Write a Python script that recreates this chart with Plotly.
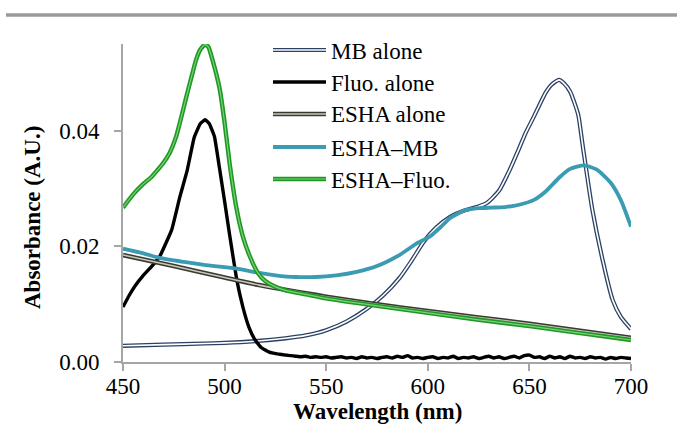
import plotly.graph_objects as go

# ---------------- data ----------------
mb_nm = [450, 470, 490, 500, 515, 530, 540, 550, 560, 570, 578, 586, 592, 598, 604, 611,
         618, 624, 629, 635, 640, 645, 648, 652, 658, 661, 664.6, 667, 670, 674, 676, 678,
         681, 686, 691, 695, 700]
mb_abs = [0.0028, 0.0030, 0.0032, 0.0033, 0.0036, 0.0041, 0.0046, 0.0055, 0.0070, 0.0092,
          0.0115, 0.0145, 0.0175, 0.0208, 0.0232, 0.0251, 0.0262, 0.0268, 0.0275, 0.0296,
          0.0330, 0.0370, 0.0395, 0.0423, 0.0466, 0.0480, 0.0488, 0.0482, 0.0468, 0.0428,
          0.0380, 0.0332, 0.0263, 0.0177, 0.0107, 0.0078, 0.0057]

fluo_nm = [450, 453, 456, 460, 464, 468, 474, 478, 481.5, 485, 488, 490.4, 492.5, 495, 497.5,
           500, 502.6, 506, 509, 512, 515, 518, 522, 526,
           530, 532.5, 535, 537.5, 540, 542.5, 545, 547.5, 550, 552.5, 555, 557.5, 560, 562.5,
           565, 567.5, 570, 572.5, 575, 577.5, 580, 582.5, 585, 587.5, 590, 592.5, 595, 597.5,
           600, 602.5, 605, 607.5, 610, 612.5, 615, 617.5, 620, 622.5, 625, 627.5, 630, 632.5,
           635, 637.5, 640, 642.5, 645, 647.5, 650, 652.5, 655, 657.5, 660, 662.5, 665, 667.5,
           670, 672.5, 675, 677.5, 680, 682.5, 685, 687.5, 690, 692.5, 695, 697.5, 700]
fluo_abs = [0.0095, 0.0115, 0.0132, 0.0150, 0.0165, 0.0182, 0.0229, 0.0286, 0.0330, 0.0388,
            0.0412, 0.0419, 0.0412, 0.0390, 0.0335, 0.0278, 0.0217, 0.0142, 0.0095, 0.0060,
            0.0038, 0.0025, 0.0017, 0.0014,
            0.0012, 0.0011, 0.0010, 0.0009, 0.0010, 0.0008, 0.0009, 0.0008, 0.0009, 0.0007,
            0.0008, 0.0009, 0.0007, 0.0008, 0.0006, 0.0009, 0.0007, 0.0008, 0.0006, 0.0008,
            0.0009, 0.0007, 0.0010, 0.0008, 0.0011, 0.0007, 0.0008, 0.0006, 0.0008, 0.0009,
            0.0006, 0.0008, 0.0007, 0.0010, 0.0006, 0.0008, 0.0007, 0.0009, 0.0006, 0.0008,
            0.0010, 0.0007, 0.0009, 0.0006, 0.0008, 0.0010, 0.0007, 0.0011, 0.0012, 0.0008,
            0.0009, 0.0006, 0.0010, 0.0007, 0.0009, 0.0006, 0.0010, 0.0007, 0.0008, 0.0006,
            0.0009, 0.0007, 0.0008, 0.0005, 0.0008, 0.0006, 0.0008, 0.0007, 0.0006]

esha_nm = [450, 475, 500, 517, 550, 575, 600, 625, 650, 675, 700]
esha_abs = [0.0185, 0.0166, 0.0146, 0.0133, 0.0113, 0.0100, 0.0088, 0.0077, 0.0066, 0.0054, 0.0042]

eshamb_nm = [450, 460, 468, 480, 490, 500, 510, 517, 525, 535, 545, 555, 565, 575, 586, 594,
             601, 606, 611, 618, 625, 631, 638, 645, 652, 658, 665, 670, 677, 683, 690, 695, 700]
eshamb_abs = [0.0196, 0.0188, 0.0180, 0.0173, 0.0168, 0.0164, 0.0159, 0.0154, 0.0150, 0.0147,
              0.0147, 0.0150, 0.0156, 0.0166, 0.0185, 0.0204, 0.0217, 0.0232, 0.0249, 0.0262,
              0.0266, 0.0267, 0.0268, 0.0272, 0.0280, 0.0295, 0.0320, 0.0334, 0.0340, 0.0333,
              0.0310, 0.0280, 0.0234]

eshafl_nm = [450, 455, 460, 464, 467, 470, 473, 476, 478, 480, 482, 484, 486, 488, 490.4, 492,
             494, 496, 497.7, 500, 502.6, 506, 509, 512.5, 516.4, 520, 525, 530, 540, 550, 575,
             600, 625, 650, 675, 700]
eshafl_abs = [0.0267, 0.0290, 0.0308, 0.0320, 0.0332, 0.0345, 0.0362, 0.0388, 0.0414, 0.0442,
              0.0470, 0.0497, 0.0523, 0.0540, 0.0549, 0.0545, 0.0523, 0.0497, 0.0470, 0.0414,
              0.0340, 0.0263, 0.0217, 0.0182, 0.0154, 0.0140, 0.0130, 0.0124, 0.0117, 0.0110,
              0.0097, 0.0085, 0.0073, 0.0062, 0.0050, 0.0038]

legend_labels = ["MB alone", "Fluo. alone", "ESHA alone", "ESHA\u2013MB", "ESHA\u2013Fluo."]
x_ticks = [450, 500, 550, 600, 650, 700]
y_ticks = [0.00, 0.02, 0.04]
y_tick_text = ["0.00", "0.02", "0.04"]

# ---------------- styles ----------------
FONT = "Liberation Serif"
# (outer color, outer width, inner color, inner width, smoothing)
styles = [
    ("#2b4163", 4.2, "#ffffff", 1.6, 0.6),   # MB alone (double line)
    ("#000000", 3.4, None, 0, 0.3),          # Fluo alone
    ("#3a3a33", 4.6, "#c9c7b8", 1.6, 0.6),   # ESHA alone (double line)
    ("#3a9bb3", 3.8, None, 0, 0.6),          # ESHA-MB
    ("#1e9a24", 4.4, "#7ccf7c", 1.2, 0.6),   # ESHA-Fluo (double line)
]
series = [(mb_nm, mb_abs), (fluo_nm, fluo_abs), (esha_nm, esha_abs),
          (eshamb_nm, eshamb_abs), (eshafl_nm, eshafl_abs)]

fig = go.Figure()
for (xs, ys), (oc, ow, ic, iw, sm), name in zip(series, styles, legend_labels):
    fig.add_trace(go.Scatter(x=xs, y=ys, mode="lines", name=name, showlegend=False,
                             line=dict(color=oc, width=ow, shape="spline", smoothing=sm)))
    if ic:
        fig.add_trace(go.Scatter(x=xs, y=ys, mode="lines", showlegend=False, hoverinfo="skip",
                                 line=dict(color=ic, width=iw, shape="spline", smoothing=sm)))

# plot area in pixels
L, R, T, B = 123, 631, 44, 362
W, H = 677, 428


def px(xp):
    return (xp - L) / (R - L)


def py(yp):
    return (B - yp) / (B - T)


shapes = []
annotations = []
# top gray rule
shapes.append(dict(type="line", xref="paper", yref="paper", x0=px(6), x1=px(677),
                   y0=py(15), y1=py(15), line=dict(color="#9a9a9a", width=3.5)))

# manual legend (to reproduce double-line swatches)
leg_y = [50, 82, 114, 147, 179]
for (oc, ow, ic, iw, sm), lab, yy in zip(styles, legend_labels, leg_y):
    shapes.append(dict(type="line", xref="paper", yref="paper", x0=px(273), x1=px(326),
                       y0=py(yy), y1=py(yy), line=dict(color=oc, width=ow)))
    if ic:
        shapes.append(dict(type="line", xref="paper", yref="paper", x0=px(273), x1=px(326),
                           y0=py(yy), y1=py(yy), line=dict(color=ic, width=iw)))
    annotations.append(dict(text=lab, xref="paper", yref="paper", x=px(329), y=py(yy + 1),
                            xanchor="left", yanchor="middle", showarrow=False,
                            font=dict(family=FONT, size=23, color="#000000")))

# axis titles
annotations.append(dict(text="<b>Wavelength (nm)</b>", xref="paper", yref="paper",
                        x=0.5, y=py(411), xanchor="center", yanchor="middle", showarrow=False,
                        font=dict(family=FONT, size=23, color="#000000")))
annotations.append(dict(text="<b>Absorbance (A.U.)</b>", xref="paper", yref="paper",
                        x=px(32), y=py(218), xanchor="center", yanchor="middle", showarrow=False,
                        textangle=-90, font=dict(family=FONT, size=23, color="#000000")))

fig.update_layout(
    width=W, height=H,
    margin=dict(l=L, r=W - R, t=T, b=H - B, pad=0),
    paper_bgcolor="white", plot_bgcolor="white",
    font=dict(family=FONT, size=23, color="#000000"),
    shapes=shapes, annotations=annotations,
    showlegend=False,
    xaxis=dict(range=[450, 700], tickvals=x_ticks, showgrid=False, zeroline=False,
               showline=True, linecolor="#a6a6a6", linewidth=2,
               ticks="outside", ticklen=7, tickcolor="#a6a6a6", tickwidth=2,
               ticklabelstandoff=-5, tickfont=dict(family=FONT, size=23, color="#000000")),
    yaxis=dict(range=[0, 0.055], tickvals=y_ticks, ticktext=y_tick_text, showgrid=False,
               zeroline=False, showline=True, linecolor="#a6a6a6", linewidth=2,
               ticks="outside", ticklen=7, tickcolor="#a6a6a6", tickwidth=2,
               ticklabelstandoff=10, tickfont=dict(family=FONT, size=23, color="#000000")),
)

fig.write_html("out.html", config={"displayModeBar": False},
               post_script="document.body.style.margin='0';document.body.style.padding='0';")
